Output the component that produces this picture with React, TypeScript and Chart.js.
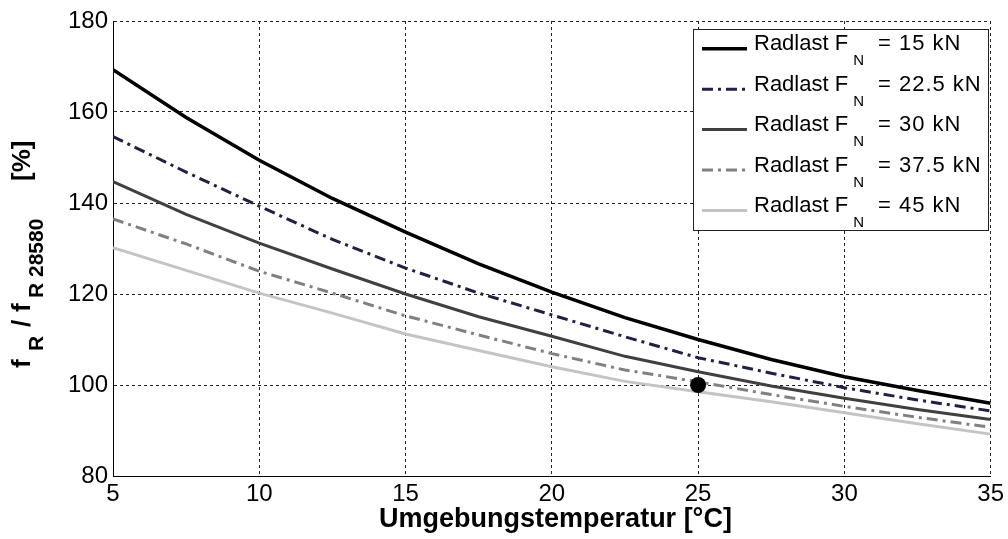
import React, { useEffect, useRef } from 'react';
import { Chart, registerables } from 'chart.js';

Chart.register(...registerables);

// Ambient temperature in °C
const temperatures = [5, 7.5, 10, 12.5, 15, 17.5, 20, 22.5, 25, 27.5, 30, 32.5, 35];

// Wheel loads F_N in kN (legend values)
const wheelLoads = ['15', '22.5', '30', '37.5', '45'];

// f_R / f_R 28580 in % for each wheel load
const load15 = [169.3, 158.8, 149.4, 141.0, 133.6, 126.6, 120.4, 114.8, 110.0, 105.6, 101.8, 98.8, 96.0];
const load22_5 = [154.6, 146.8, 139.3, 132.0, 125.7, 120.2, 115.4, 110.6, 106.0, 102.6, 99.4, 96.7, 94.3];
const load30 = [144.7, 137.5, 131.2, 125.5, 120.0, 115.0, 110.7, 106.3, 102.9, 99.8, 97.1, 94.6, 92.4];
const load37_5 = [136.5, 131.0, 125.0, 120.2, 115.2, 111.0, 106.9, 103.3, 100.7, 97.9, 95.3, 92.9, 90.7];
const load45 = [130.2, 125.2, 120.2, 115.8, 111.2, 107.6, 104.0, 100.8, 98.5, 96.3, 93.9, 91.5, 89.2];

const seriesValues = [load15, load22_5, load30, load37_5, load45];

// Reference point: 25 °C, 100 %
const referenceX = 25;
const referenceY = 100;

const seriesColors = ['#000000', '#202040', '#404040', '#808080', '#c4c4c4'];
const seriesDashes: number[][] = [[], [11, 5, 3, 5], [], [11, 5, 3, 5], []];

const FONT = '"Liberation Sans", Arial, Helvetica, sans-serif';

const textPlugin = {
  id: 'figureText',
  afterDraw(chart: any) {
    const ctx: any = chart.ctx;
    ctx.save();
    ctx.fillStyle = '#000';
    ctx.textBaseline = 'alphabetic';
    ctx.textAlign = 'left';

    // Legend box
    const bx = 693.5, by = 29.5, bw = 295, bh = 201;
    ctx.fillStyle = '#fff';
    ctx.fillRect(bx, by, bw, bh);
    ctx.strokeStyle = '#222';
    ctx.lineWidth = 1;
    ctx.setLineDash([]);
    ctx.strokeRect(bx, by, bw, bh);

    const lineDatasets = chart.data.datasets.filter((d: any) => d.isLoadSeries);
    lineDatasets.forEach((ds: any, i: number) => {
      const base = 50.3 + i * 40.4;
      // sample line
      ctx.save();
      ctx.strokeStyle = ds.borderColor;
      ctx.lineWidth = ds.borderWidth;
      ctx.setLineDash(ds.borderDash || []);
      ctx.beginPath();
      ctx.moveTo(702, base - 1.5);
      ctx.lineTo(747, base - 1.5);
      ctx.stroke();
      ctx.restore();

      const x0 = 754;
      ctx.fillStyle = '#000';
      ctx.font = `22px ${FONT}`;
      ctx.fillText('Radlast F', x0, base);
      const fw = ctx.measureText('Radlast F').width;
      ctx.font = `15px ${FONT}`;
      const nx = x0 + fw + 5;
      ctx.fillText('N', nx, base + 15);
      const nw = ctx.measureText('N').width;
      ctx.font = `22px ${FONT}`;
      ctx.letterSpacing = '1px';
      ctx.fillText(`= ${wheelLoads[i]} kN`, nx + nw + 14, base);
      ctx.letterSpacing = '0px';
    });

    // x-axis title
    ctx.fillStyle = '#000';
    ctx.font = `bold 27px ${FONT}`;
    ctx.textAlign = 'center';
    ctx.fillText('Umgebungstemperatur [°C]', 555.5, 527);

    // y-axis title with subscripts (rotated)
    ctx.textAlign = 'left';
    const mainFont = `bold 26px ${FONT}`;
    const subFont = `bold 21px ${FONT}`;
    const pieces: [string, string, number, number][] = [
      ['f', mainFont, 30, 368],
      ['R', subFont, 43, 351],
      ['/', mainFont, 30, 327],
      ['f', mainFont, 30, 312],
      ['R 28580', subFont, 43, 298],
      ['[%]', mainFont, 30, 181],
    ];
    pieces.forEach(([txt, font, px, sy]) => {
      ctx.save();
      ctx.translate(px, sy);
      ctx.rotate(-Math.PI / 2);
      ctx.font = font;
      ctx.fillText(txt, 0, 0);
      ctx.restore();
    });

    ctx.restore();
  },
};

export default function App() {
  const canvasRef = useRef<HTMLCanvasElement | null>(null);

  useEffect(() => {
    const canvas = canvasRef.current;
    if (!canvas) return;

    const lineSets = seriesValues.map((vals, i) => ({
      type: 'line' as const,
      label: `Radlast F_N = ${wheelLoads[i]} kN`,
      isLoadSeries: true,
      data: temperatures.map((t, k) => ({ x: t, y: vals[k] })),
      borderColor: seriesColors[i],
      backgroundColor: seriesColors[i],
      borderWidth: i === 0 ? 3.5 : 3,
      borderDash: seriesDashes[i],
      borderCapStyle: 'butt' as const,
      pointRadius: 0,
      tension: 0,
      fill: false,
      order: i,
    }));

    const chart = new Chart(canvas, {
      type: 'line',
      data: {
        datasets: [
          ...lineSets,
          {
            type: 'scatter' as const,
            label: 'Referenz',
            data: [{ x: referenceX, y: referenceY }],
            pointRadius: 8,
            pointBackgroundColor: '#000',
            pointBorderColor: '#000',
            borderWidth: 0,
            showLine: false,
            order: -1,
          } as any,
        ],
      },
      options: {
        responsive: false,
        animation: false,
        devicePixelRatio: 1,
        layout: { padding: { top: 21, right: 15, left: 0, bottom: 0 } },
        plugins: {
          legend: { display: false },
          tooltip: { enabled: false },
        },
        scales: {
          x: {
            type: 'linear',
            min: 5,
            max: 35,
            ticks: {
              stepSize: 5,
              color: '#000',
              font: { family: FONT, size: 24 },
              padding: 4,
              maxRotation: 0,
              autoSkip: false,
            },
            grid: { color: '#222', lineWidth: 1, drawTicks: false },
            border: { display: true, color: '#000', width: 1, dash: [3, 3] },
            afterFit: (scale: any) => {
              scale.height = 63;
            },
          },
          y: {
            type: 'linear',
            min: 80,
            max: 180,
            ticks: {
              stepSize: 20,
              color: '#000',
              font: { family: FONT, size: 24 },
              padding: 5,
              autoSkip: false,
            },
            grid: { color: '#222', lineWidth: 1, drawTicks: false },
            border: { display: true, color: '#000', width: 1, dash: [3, 3] },
            afterFit: (scale: any) => {
              scale.width = 113;
            },
          },
        },
      } as any,
      plugins: [textPlugin],
    });

    return () => chart.destroy();
  }, []);

  return (
    <div style={{ position: 'fixed', left: 0, top: 0, width: 1008, height: 539, background: '#fff' }}>
      <canvas ref={canvasRef} width={1008} height={539} style={{ display: 'block' }} />
    </div>
  );
}
